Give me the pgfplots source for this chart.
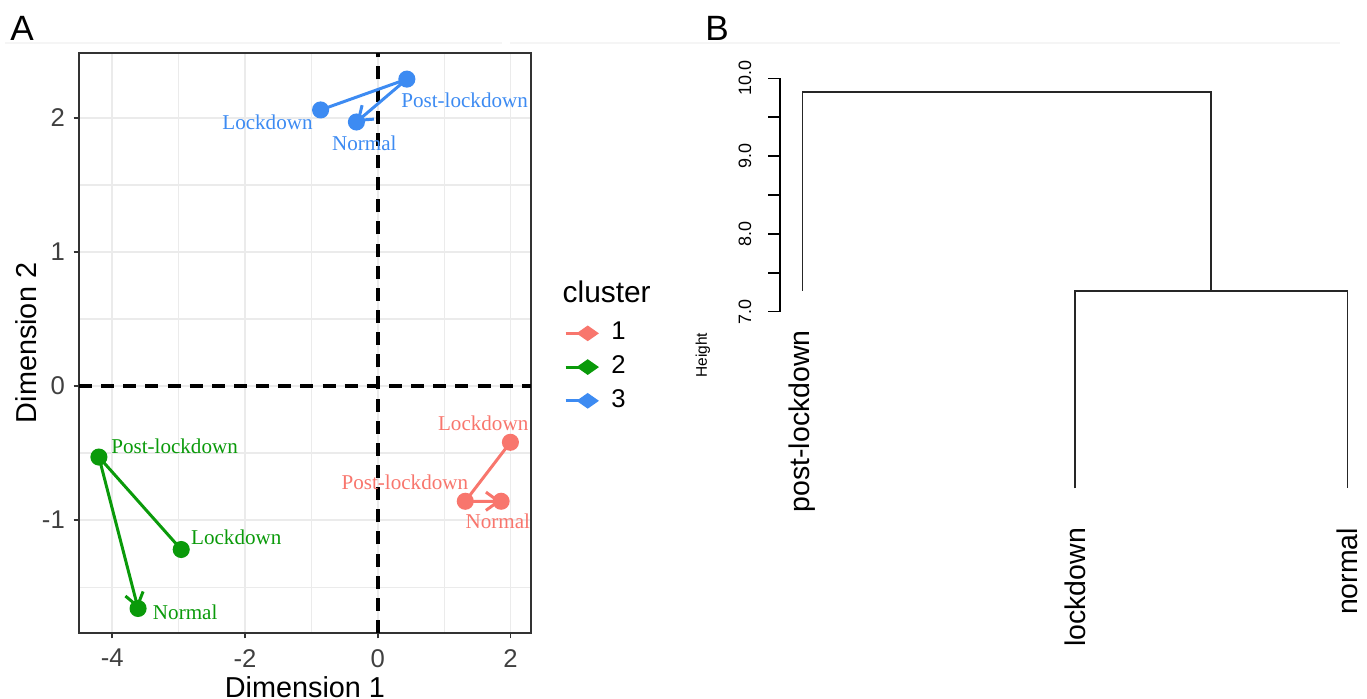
\documentclass[border=0pt]{standalone}
\usepackage{fontspec}
\setmainfont{Liberation Sans}
\newfontfamily\serifl{Liberation Serif}
\usepackage{pgfplots}
\pgfplotsset{compat=1.18}
\usetikzlibrary{arrows.meta}

\definecolor{cred}{HTML}{F8766D}
\definecolor{cgreen}{HTML}{0A9A0A}
\definecolor{cblue}{HTML}{3D8BF2}
\definecolor{gridc}{HTML}{EBEBEB}
\definecolor{axc}{HTML}{333333}
\definecolor{tickc}{HTML}{404040}

\pgfplotsset{
  ckey/.style={legend image code/.code={
    \draw[line width=0.85pt] (0cm,0cm) -- (0.17cm,0cm);
    \fill (0.12cm,0cm) -- (0.22cm,0.07cm) -- (0.32cm,0cm) -- (0.22cm,-0.07cm) -- cycle;}},
  traj/.style={line width=0.85pt, mark=*, mark size=2pt, mark options={solid},
    -{Straight Barb[length=3.6pt,width=5.2pt]}, forget plot},
}
\tikzset{lab/.style={font=\serifl\fontsize{6}{7}\selectfont, inner sep=0pt}}

\begin{document}
\begin{tikzpicture}
\useasboundingbox (0,0) rectangle (13.67,-6.99);
\draw[gray!8, line width=0.4pt] (0.05,-0.43) -- (5.02,-0.43);
\draw[gray!8, line width=0.4pt] (5.10,-0.43) -- (13.40,-0.43);
\node[font=\fontsize{10}{11}\selectfont] at (0.22,-0.28) {A};
\node[font=\fontsize{10}{11}\selectfont] at (7.17,-0.28) {B};

% panel A
\begin{axis}[
  at={(0.79cm,-6.33cm)}, anchor=south west,
  scale only axis, width=4.52cm, height=5.80cm,
  xmin=-4.5, xmax=2.31, ymin=-1.843, ymax=2.485,
  xtick={-4,-2,0,2}, ytick={-1,0,1,2},
  minor xtick={-3,-1,1}, minor ytick={-1.5,-0.5,0.5,1.5},
  grid=both,
  major grid style={gridc, line width=0.5pt},
  minor grid style={gridc, line width=0.3pt},
  axis line style={axc, line width=0.5pt},
  tick align=outside, xtick pos=bottom, ytick pos=left,
  major tick length=0.055cm, minor tick length=0pt,
  tick style={axc, line width=0.5pt},
  ticklabel style={font=\fontsize{7.3}{8}\selectfont, text=tickc, inner sep=0pt},
  xticklabel style={anchor=north, yshift=-0.1cm},
  yticklabel style={anchor=east, xshift=-0.08cm},
  /pgf/number format/assume math mode=true,
  xlabel={Dimension 1}, ylabel={Dimension 2},
  label style={font=\fontsize{8.2}{9.5}\selectfont},
  xlabel style={at={(rel axis cs:0.5,-0.112)}, anchor=base},
  ylabel style={at={(rel axis cs:-0.095,0.5)}, anchor=base},
  clip=false,
  legend style={at={(rel axis cs:1.072,0.55)}, anchor=north west,
    draw=none, fill=none, inner sep=0pt, row sep=-0.036cm,
    font=\fontsize{7.3}{8}\selectfont,
    cells={anchor=west, text height=0.18cm, text depth=0cm, inner sep=0.06cm},
    /tikz/every odd column/.append style={column sep=0.06cm}},
]
\addplot[black, line width=1.1pt, dash pattern=on 3.7pt off 2.6pt, forget plot]
  coordinates {(0,-1.843) (0,2.485)};
\addplot[black, line width=1.1pt, dash pattern=on 3.7pt off 2.6pt, forget plot]
  coordinates {(-4.5,0) (2.31,0)};

% cluster 1
\addplot[cred, traj] coordinates {(2.00,-0.42) (1.32,-0.86) (1.86,-0.86)};
% cluster 2
\addplot[cgreen, traj] coordinates {(-2.96,-1.22) (-4.20,-0.53) (-3.61,-1.66)};
% cluster 3
\addplot[cblue, traj] coordinates {(-0.86,2.06) (0.44,2.29) (-0.32,1.97)};

\node[lab, cblue] at (axis cs:-1.66,1.97) {Lockdown};
\node[lab, cblue] at (axis cs:1.31,2.13) {Post-lockdown};
\node[lab, cblue] at (axis cs:-0.20,1.81) {Normal};
\node[lab, cgreen] at (axis cs:-3.06,-0.45) {Post-lockdown};
\node[lab, cgreen] at (axis cs:-2.13,-1.13) {Lockdown};
\node[lab, cgreen] at (axis cs:-2.90,-1.69) {Normal};
\node[lab, cred] at (axis cs:1.59,-0.28) {Lockdown};
\node[lab, cred] at (axis cs:0.41,-0.72) {Post-lockdown};
\node[lab, cred] at (axis cs:1.81,-1.01) {Normal};

\node[anchor=west, inner sep=0pt, font=\fontsize{8.5}{10}\selectfont]
  at (rel axis cs:1.0686,0.588) {cluster};
\addlegendimage{cred, ckey}
\addlegendentry{1}
\addlegendimage{cgreen, ckey}
\addlegendentry{2}
\addlegendimage{cblue, ckey}
\addlegendentry{3}
\end{axis}

% panel B
\begin{axis}[
  at={(7.80cm,-3.117cm)}, anchor=south west,
  scale only axis, width=5.81cm, height=2.334cm,
  xmin=0.917, xmax=3.05, ymin=7, ymax=10,
  axis x line=none, axis y line*=left,
  axis line style={black, line width=0.45pt},
  ytick={7,8,9,10}, minor ytick={7.5,8.5,9.5},
  yticklabels={7.0,8.0,9.0,10.0},
  tick align=outside, major tick length=0.12cm, minor tick length=0.12cm,
  tick style={black, line width=0.45pt},
  yticklabel style={xshift=-0.16cm, rotate=90, anchor=south, inner sep=0pt,
    font=\fontsize{5.1}{6}\selectfont},
  /pgf/number format/assume math mode=true,
  ylabel={Height},
  ylabel style={at={(axis cs:0.634,6.44)}, anchor=center,
    font=\fontsize{4.4}{5}\selectfont},
  clip=false,
]
\addplot[black!85, line width=0.5pt] coordinates {(1,7.27) (1,9.82) (2.5,9.82) (2.5,7.27)};
\addplot[black!85, line width=0.5pt] coordinates {(2,4.73) (2,7.27) (3,7.27) (3,4.73)};
\node[rotate=90, anchor=east, font=\fontsize{8.1}{9}\selectfont] at (axis cs:1,6.92) {post-lockdown};
\node[rotate=90, anchor=east, font=\fontsize{8.1}{9}\selectfont] at (axis cs:2,4.38) {lockdown};
\node[rotate=90, anchor=east, font=\fontsize{8.1}{9}\selectfont] at (axis cs:3,4.38) {normal};
\end{axis}
\end{tikzpicture}
\end{document}
